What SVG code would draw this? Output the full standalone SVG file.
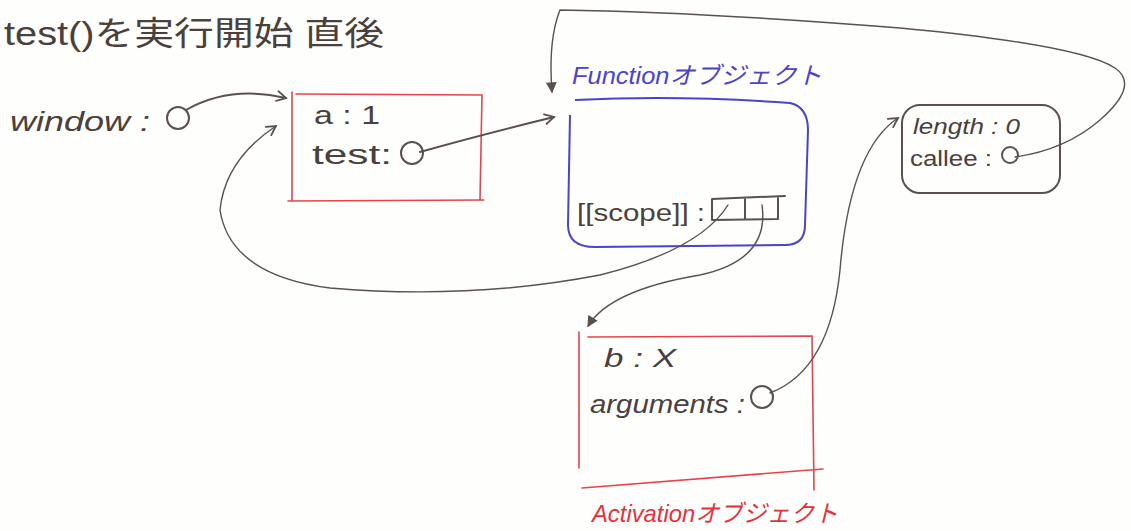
<svg xmlns="http://www.w3.org/2000/svg" width="1131" height="531" viewBox="0 0 1131 531">
<style>
text{font-family:"Liberation Sans","Noto Sans CJK JP",sans-serif;fill:#4a403c}
.ink{fill:none;stroke:#5a5050;stroke-width:2;stroke-linecap:round;stroke-linejoin:round}
.thin{fill:none;stroke:#5a5050;stroke-width:1.4;stroke-linecap:round}
.red{fill:none;stroke:#e8434a;stroke-width:1.6;stroke-linecap:round}
.blue{fill:none;stroke:#4a44cc;stroke-width:2}
</style>
<defs>
<marker id="v" viewBox="0 0 12 12" refX="10" refY="6" markerWidth="12" markerHeight="12" markerUnits="userSpaceOnUse" orient="auto">
<path d="M1,1 L10,6 L1,11" fill="none" stroke="#5a5050" stroke-width="1.8" stroke-linecap="round"/>
</marker>
<marker id="t" viewBox="0 0 12 12" refX="10" refY="6" markerWidth="12" markerHeight="12" markerUnits="userSpaceOnUse" orient="auto">
<path d="M1,1.5 L10,6 L1,10.5 Z" fill="#5a5050" stroke="#5a5050" stroke-width="1.2"/>
</marker>
</defs>
<rect width="1131" height="531" fill="#fefefc"/>
<text x="4" y="45" font-size="33" textLength="380" lengthAdjust="spacingAndGlyphs">test()を実行開始 直後</text>
<g id="window-label">
<text x="10" y="131" font-size="28" font-style="italic" textLength="140" lengthAdjust="spacingAndGlyphs">window :</text>
<circle class="ink" cx="178" cy="118" r="11"/>
</g>
<g id="window-object">
<path class="red" d="M292,92 L292,200 M296,94 L482,95 L480,200 M288,201 L484,200"/>
<text x="314" y="124" font-size="26" textLength="66" lengthAdjust="spacingAndGlyphs">a : 1</text>
<text x="312" y="164" font-size="27" textLength="80" lengthAdjust="spacingAndGlyphs">test:</text>
<circle class="ink" cx="412" cy="153" r="11"/>
</g>
<g id="function-object">
<text x="572" y="84" font-size="24" style="fill:#4a44cc" font-style="italic" textLength="250" lengthAdjust="spacingAndGlyphs">Functionオブジェクト</text>
<path class="blue" d="M575,100 Q680,95 790,103 Q808,107 808,130 L805,225 Q805,245 785,245 L595,247 Q568,247 568,225 L570,115"/>
<text x="577" y="221" font-size="23" textLength="128" lengthAdjust="spacingAndGlyphs">[[scope]] :</text>
<path class="ink" d="M712,199 L785,196 M712,199 L712,220 M712,220 L778,219 M745,198 L745,219 M778,198 L778,219"/>
</g>
<g id="activation-object">
<path class="red" d="M579,332 L579,468 M588,337 L812,336 L814,490 M582,488 L823,469"/>
<text x="604" y="367" font-size="26" font-style="italic" textLength="72" lengthAdjust="spacingAndGlyphs">b : X</text>
<text x="590" y="413" font-size="26" font-style="italic" textLength="155" lengthAdjust="spacingAndGlyphs">arguments :</text>
<circle class="ink" cx="762" cy="397" r="11"/>
<text x="592" y="522" font-size="24" style="fill:#e8303a" font-style="italic" textLength="246" lengthAdjust="spacingAndGlyphs">Activationオブジェクト</text>
</g>
<g id="arguments-object">
<rect class="ink" x="902" y="105" width="158" height="88" rx="18"/>
<text x="913" y="134" font-size="22" font-style="italic" textLength="107" lengthAdjust="spacingAndGlyphs">length : 0</text>
<text x="910" y="166" font-size="22" textLength="82" lengthAdjust="spacingAndGlyphs">callee :</text>
<circle class="ink" cx="1010" cy="155" r="8"/>
</g>
<g id="connectors">
<path class="ink" marker-end="url(#v)" d="M186,110 Q230,85 286,98"/>
<path class="ink" marker-end="url(#v)" d="M420,152 Q480,135 554,117"/>
<path class="thin" marker-end="url(#v)" d="M728,205 Q700,250 600,275 Q470,300 330,288 Q230,275 220,210 Q225,160 276,126"/>
<path class="thin" marker-end="url(#t)" d="M762,205 Q770,260 700,275 Q610,290 588,326"/>
<path class="thin" marker-end="url(#v)" d="M770,393 Q830,370 840,270 Q850,150 898,118"/>
<path class="thin" marker-end="url(#t)" d="M1015,157 Q1065,150 1100,120 Q1140,85 1115,68 Q1080,45 900,28 Q700,12 560,10 Q548,40 552,92"/>
</g>
</svg>
